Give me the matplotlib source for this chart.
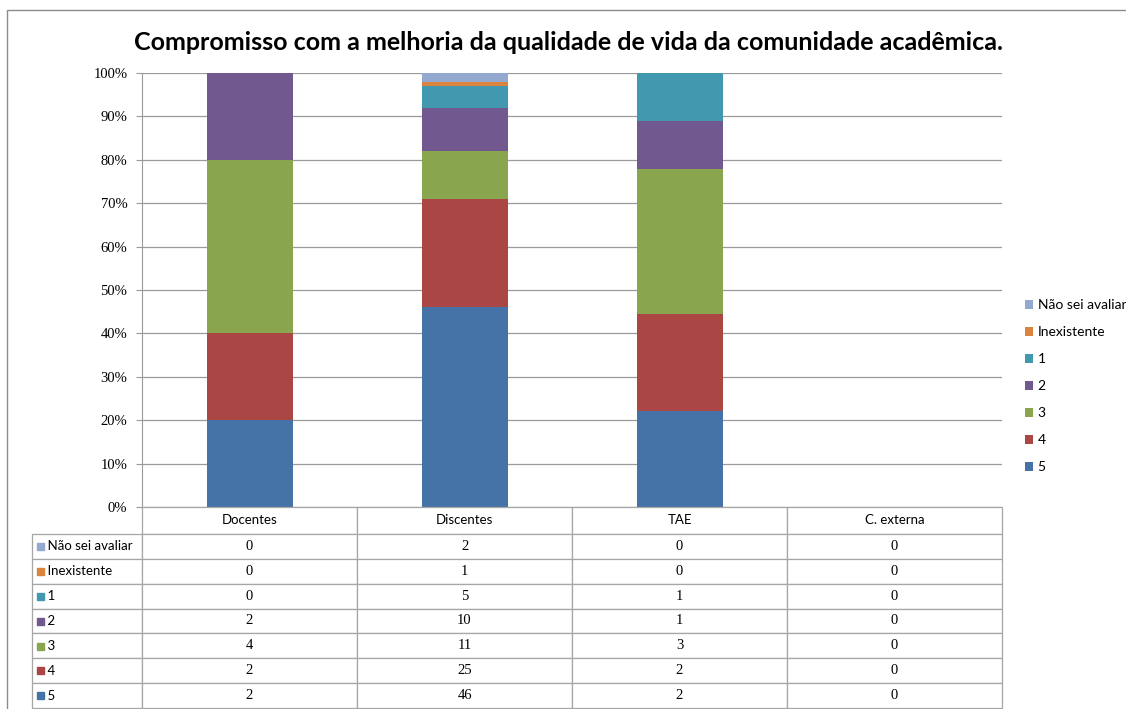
import numpy as np
import matplotlib.pyplot as plt
from matplotlib.patches import Rectangle

categories = ["Docentes", "Discentes", "TAE", "C. externa"]
series_names = ["5", "4", "3", "2", "1", "Inexistente", "Não sei avaliar"]
v_5 = [2, 46, 2, 0]
v_4 = [2, 25, 2, 0]
v_3 = [4, 11, 3, 0]
v_2 = [2, 10, 1, 0]
v_1 = [0, 5, 1, 0]
v_inex = [0, 1, 0, 0]
v_nsa = [0, 2, 0, 0]
colors = ["#4572A7", "#AA4643", "#89A54E", "#71588F", "#4198AF", "#DB843D", "#93A9CF"]

W, H = 1126, 709
fig = plt.figure(figsize=(W / 100, H / 100), dpi=100)

def fx(px):
    return px / W

def fy(py):
    return 1 - py / H

sans = ["Lato", "DejaVu Sans"]
serif = ["Liberation Serif", "DejaVu Serif"]
grey = "#9a9a9a"

# outer border of the chart area (right and bottom edges fall outside the picture)
fig.patches.append(Rectangle((fx(7), fy(760)), fx(1200), fy(10) - fy(760), transform=fig.transFigure,
                             fill=False, edgecolor="#8c8c8c", linewidth=1))

fig.text(fx(568), fy(42), "Compromisso com a melhoria da qualidade de vida da comunidade acadêmica.",
         ha="center", va="center", fontsize=18, fontweight="bold", family=sans)

data = np.array([v_5, v_4, v_3, v_2, v_1, v_inex, v_nsa], dtype=float)
totals = data.sum(axis=0)
pct = np.divide(data, totals, out=np.zeros_like(data), where=totals > 0) * 100

ax = fig.add_axes([fx(142), fy(507), fx(1002) - fx(142), fy(73) - fy(507)])
x = np.arange(len(categories))
bottom = np.zeros(len(categories))
handles = []
for name, vals, c in zip(series_names, pct, colors):
    b = ax.bar(x, vals, 0.4, bottom=bottom, color=c, label=name, zorder=3)
    handles.append(b)
    bottom += vals

ax.set_xlim(-0.5, len(categories) - 0.5)
ax.set_ylim(0, 100)
ax.set_yticks(np.arange(0, 101, 10))
ax.set_yticklabels([f"{t}%" for t in range(0, 101, 10)], family=serif, fontsize=10.5)
ax.set_xticks([])
ax.yaxis.grid(True, color=grey, linewidth=0.9, zorder=0)
ax.tick_params(axis="y", length=4.5, color=grey, pad=6)
for s in ["top", "right", "bottom"]:
    ax.spines[s].set_visible(False)
ax.spines["left"].set_color(grey)

leg = fig.legend(handles[::-1], series_names[::-1], loc="center left",
                 bbox_to_anchor=(fx(1025), fy(386)), frameon=False, borderpad=0, borderaxespad=0,
                 prop={"family": sans, "size": 10}, handlelength=0.6, handleheight=0.6,
                 handletextpad=0.3, labelspacing=1.08)

# data table below the plot
tax = fig.add_axes([fx(32), fy(708), fx(1002) - fx(32), fy(507) - fy(708)])
tax.axis("off")
cell_text = [["    " + n] + [str(int(v)) for v in row]
             for n, row in zip(series_names[::-1], data[::-1])]
tbl = tax.table(cellText=cell_text, colLabels=[""] + categories,
                colWidths=[110 / 970] + [215 / 970] * 4, cellLoc="center", bbox=[0, 0, 1, 1])
tbl.auto_set_font_size(False)
for (r, c), cell in tbl.get_celld().items():
    cell.set_edgecolor("#a6a6a6")
    cell.set_linewidth(0.9)
    cell.set_height(27 if r == 0 else 24.9)
    txt = cell.get_text()
    if r == 0 or c == 0:
        txt.set_family(sans)
        txt.set_fontsize(9.5)
    else:
        txt.set_family(serif)
        txt.set_fontsize(10.5)
    if c == 0:
        cell.set_text_props(ha="left")
        cell.PAD = 0.02
        cell._loc = "left"
    if r == 0 and c == 0:
        cell.visible_edges = ""
        cell.set_facecolor("none")

# colour keys in the row labels
row_tops = 534 + 24.9 * np.arange(len(colors))
for yt, c in zip(row_tops, colors[::-1]):
    yc = yt + 12.4
    fig.patches.append(Rectangle((fx(37), fy(yc + 3.5)), fx(7), fy(yc - 3.5) - fy(yc + 3.5),
                                 transform=fig.transFigure, color=c, zorder=5))

fig.savefig("out.png", dpi=100)
